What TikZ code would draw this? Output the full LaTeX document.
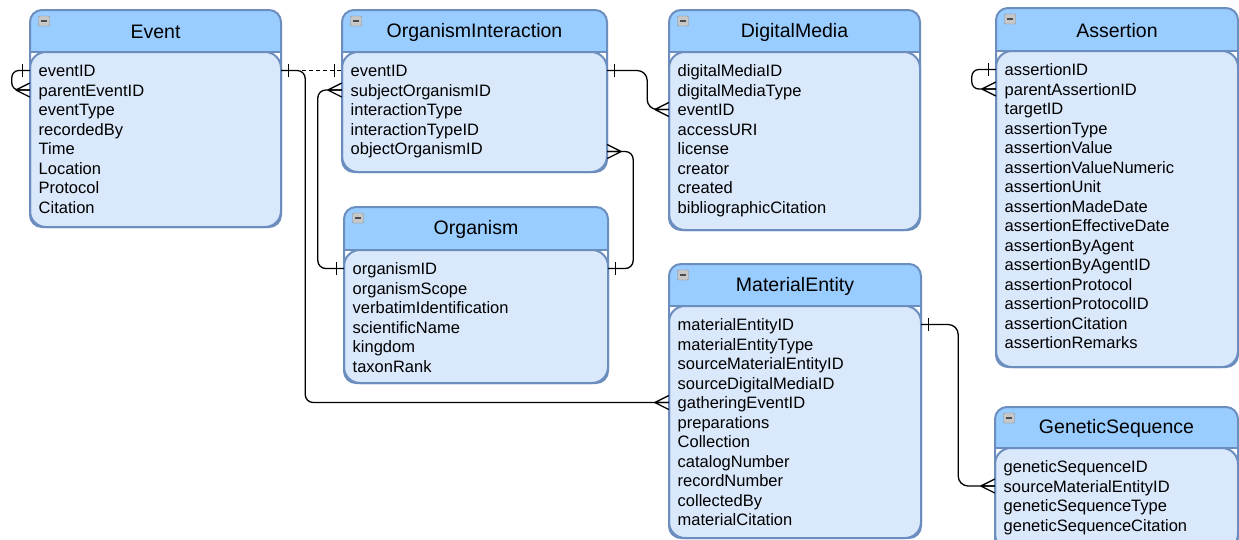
\documentclass[tikz,border=0pt]{standalone}
\usepackage{fontspec}
\setmainfont{Liberation Sans}
\usetikzlibrary{fit,calc}
\definecolor{hdrcol}{RGB}{153,204,255}
\definecolor{bodycol}{RGB}{218,232,252}
\definecolor{bordercol}{RGB}{108,142,191}
\tikzset{
  border/.style={draw=bordercol, line width=2pt},
  bodyshape/.style={border, fill=bodycol, rounded corners=16pt},
  titletext/.style={inner sep=0pt, font=\fontsize{19.5}{22}\selectfont},
  fieldtext/.style={inner sep=0pt, anchor=west, text height=12pt, text depth=0pt, font=\fontsize{16.5}{19.5}\selectfont},
  boxnode/.style={inner sep=0pt, draw=none},
  minusicon/.style={draw=black!45, fill=black!22, minimum width=11pt, minimum height=10pt, inner sep=0pt, rounded corners=1pt,
    path picture={\draw[line width=1.3pt, black!70] ([xshift=2.3pt]path picture bounding box.west) -- ([xshift=-2.3pt]path picture bounding box.east);}},
  conn/.style={draw=black, line width=1.3pt},
  dashconn/.style={conn, dash pattern=on 4pt off 3pt}
}
% #1 name, #2 x1, #3 y1, #4 x2, #5 y2, #6 header bottom, #7 title, #8 fields
\newcommand\erentity[8]{%
  \begin{scope}
    \clip[rounded corners=12pt] (#2,#3) rectangle (#4,#5);
    \fill[white] (#2,#3) rectangle (#4,#5);
    \fill[hdrcol] (#2,#3) rectangle (#4,#6);
  \end{scope}
  \draw[bodyshape] (#2,#6) rectangle (#4,#5);
  \draw[border, rounded corners=12pt] (#2,#3) rectangle (#4,#5);
  \draw[border] (#2,#6) -- (#4,#6);
  \node[boxnode, fit={(#2,#3) (#4,#5)}] (#1) {};
  \node[titletext] (#1-title) at ({(#2+#4)/2}, {(#3+#6)/2+1}) {#7};
  \node[minusicon] (#1-minus) at (#2+14, #3+11) {};
  \foreach \f [count=\i] in {#8} {
    \node[fieldtext] (#1-\i) at (#2+8.5, {#6+18.5+19.5*(\i-1)}) {\f};
  }
}
\newcommand\manyL[1]{\draw[conn] ([xshift=-14pt]#1) -- ([yshift=7pt]#1) ([xshift=-14pt]#1) -- (#1) ([xshift=-14pt]#1) -- ([yshift=-7pt]#1);}
\newcommand\manyR[1]{\draw[conn] ([xshift=14pt]#1) -- ([yshift=7pt]#1) ([xshift=14pt]#1) -- (#1) ([xshift=14pt]#1) -- ([yshift=-7pt]#1);}
\newcommand\oneL[1]{\draw[conn] ([xshift=-7pt,yshift=6.5pt]#1) -- ([xshift=-7pt,yshift=-6.5pt]#1);}
\newcommand\oneR[1]{\draw[conn] ([xshift=7pt,yshift=6.5pt]#1) -- ([xshift=7pt,yshift=-6.5pt]#1);}
\begin{document}
\begin{tikzpicture}[x=1pt, y=-1pt]
\useasboundingbox (0,0) rectangle (1239,539);
\clip (0,0) rectangle (1239,539);
\fill[white] (0,0) rectangle (1239,539);

\erentity{ev}{30}{10}{281}{227}{52}{Event}{eventID,parentEventID,eventType,recordedBy,Time,Location,Protocol,Citation}
\erentity{oi}{342}{10}{607}{172}{52}{OrganismInteraction}{eventID,subjectOrganismID,interactionType,interactionTypeID,objectOrganismID}
\erentity{dm}{669}{10}{920}{230}{52}{DigitalMedia}{digitalMediaID,digitalMediaType,eventID,accessURI,license,creator,created,bibliographicCitation}
\erentity{as}{996}{8}{1238}{367}{51}{Assertion}{assertionID,parentAssertionID,targetID,assertionType,assertionValue,assertionValueNumeric,assertionUnit,assertionMadeDate,assertionEffectiveDate,assertionByAgent,assertionByAgentID,assertionProtocol,assertionProtocolID,assertionCitation,assertionRemarks}
\erentity{org}{344}{207}{608}{383}{250}{Organism}{organismID,organismScope,verbatimIdentification,scientificName,kingdom,taxonRank}
\erentity{me}{669}{264}{921}{538}{306}{MaterialEntity}{materialEntityID,materialEntityType,sourceMaterialEntityID,sourceDigitalMediaID,gatheringEventID,preparations,Collection,catalogNumber,recordNumber,collectedBy,materialCitation}
\erentity{gs}{995}{407}{1238}{550}{448}{GeneticSequence}{geneticSequenceID,sourceMaterialEntityID,geneticSequenceType,geneticSequenceCitation}

% endpoints
\coordinate (evW1) at (ev.west |- ev-1);
\coordinate (evW2) at (ev.west |- ev-2);
\coordinate (evE1) at (ev.east |- ev-1);
\coordinate (oiW1) at (oi.west |- oi-1);
\coordinate (oiW2) at (oi.west |- oi-2);
\coordinate (oiE1) at (oi.east |- oi-1);
\coordinate (oiE5) at ([yshift=-3pt]oi.east |- oi-5);
\coordinate (orgW1) at (org.west |- org-1);
\coordinate (orgE1) at (org.east |- org-1);
\coordinate (dmW3) at (dm.west |- dm-3);
\coordinate (meW5) at (me.west |- me-5);
\coordinate (meE1) at (me.east |- me-1);
\coordinate (gsW2) at (gs.west |- gs-2);
\coordinate (asW1) at (as.west |- as-1);
\coordinate (asW2) at (as.west |- as-2);

% Event self reference
\draw[conn, rounded corners=7pt] (evW1) -- ++(-18,0) |- (evW2);
\oneL{evW1} \manyL{evW2}
% Event -> OrganismInteraction (dashed)
\draw[dashconn] (evE1) -- (oiW1);
\oneR{evE1} \oneL{oiW1}
% Event -> MaterialEntity
\draw[conn, rounded corners=8pt] (evE1) -- ++(24,0) |- (meW5);
\manyL{meW5}
% Organism -> OrganismInteraction subject
\draw[conn, rounded corners=8pt] (orgW1) -- ++(-26,0) |- (oiW2);
\oneL{orgW1} \manyL{oiW2}
% Organism -> OrganismInteraction object
\draw[conn, rounded corners=8pt] (orgE1) -- ++(25,0) |- (oiE5);
\oneR{orgE1} \manyR{oiE5}
% OrganismInteraction -> DigitalMedia
\draw[conn, rounded corners=10pt] (oiE1) -- ++(40,0) |- (dmW3);
\oneR{oiE1} \manyL{dmW3}
% MaterialEntity -> GeneticSequence
\draw[conn, rounded corners=10pt] (meE1) -- ++(37,0) |- (gsW2);
\oneR{meE1} \manyL{gsW2}
% Assertion self reference
\draw[conn, rounded corners=7pt] (asW1) -- ++(-24,0) |- (asW2);
\oneL{asW1} \manyL{asW2}
\end{tikzpicture}
\end{document}
